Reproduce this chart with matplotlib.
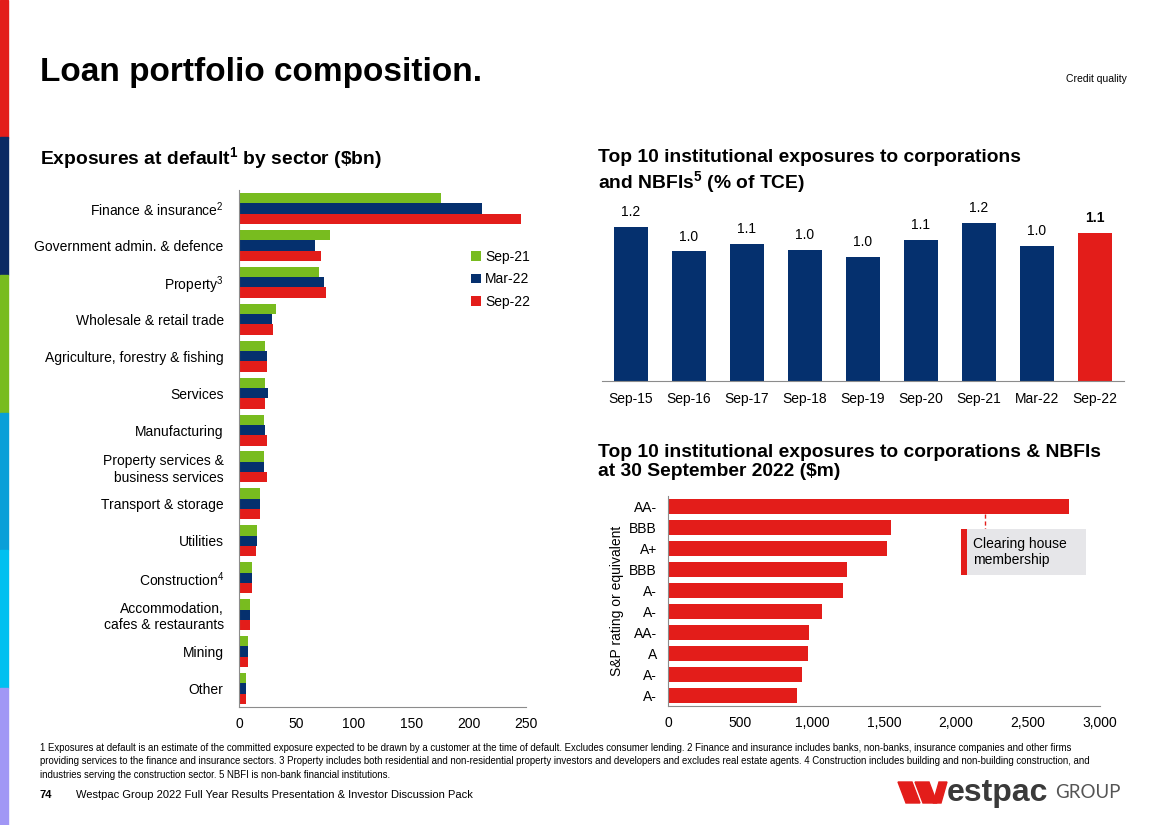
import numpy as np
import matplotlib
matplotlib.use("Agg")
import matplotlib.pyplot as plt
from matplotlib.patches import Rectangle, Polygon

plt.rcParams["font.family"] = ["Liberation Sans", "DejaVu Sans"]
plt.rcParams["mathtext.default"] = "regular"

GREEN = "#78bc1f"
NAVY = "#05306e"
RED = "#e31d1a"
AXIS_GREY = "#8c8c8c"

# Exposures at default by sector ($bn)
sectors = [
    "Finance & insurance$^2$", "Government admin. & defence", "Property$^3$",
    "Wholesale & retail trade", "Agriculture, forestry & fishing", "Services",
    "Manufacturing", "Property services &\nbusiness services", "Transport & storage",
    "Utilities", "Construction$^4$", "Accommodation,\ncafes & restaurants",
    "Mining", "Other",
]
ead_sep21 = [176, 79, 70, 32, 23, 23, 22, 21.5, 18, 16, 11, 9.5, 8, 6.5]
ead_mar22 = [212, 66, 74, 29, 24, 25.5, 22.5, 22, 18.5, 16, 11, 10, 8, 6.5]
ead_sep22 = [246, 71, 76, 30, 24.5, 23, 24.5, 24, 18, 15, 11, 10, 8, 6.5]
periods_ead = ["Sep-21", "Mar-22", "Sep-22"]

# Top 10 exposures as % of TCE
tce_periods = ["Sep-15", "Sep-16", "Sep-17", "Sep-18", "Sep-19",
               "Sep-20", "Sep-21", "Mar-22", "Sep-22"]
tce_values = [1.19, 1.00, 1.06, 1.01, 0.96, 1.09, 1.22, 1.04, 1.14]

# Top 10 exposures at 30 Sep 2022 ($m)
ratings = ["AA-", "BBB", "A+", "BBB", "A-", "A-", "AA-", "A", "A-", "A-"]
exposures = [2785, 1548, 1520, 1240, 1214, 1072, 977, 972, 928, 893]

W, H = 1168, 825
fig = plt.figure(figsize=(W / 100, H / 100), dpi=100)


def px_axes(x0, y0, x1, y1):
    """Axes from pixel box (left, top, right, bottom)."""
    return fig.add_axes([x0 / W, 1 - y1 / H, (x1 - x0) / W, (y1 - y0) / H])


def fx(x):
    return x / W


def fy(y):
    return 1 - y / H


# left colour strip
strip_cols = ["#e31d1a", "#0b2a63", "#78bc1f", "#0a9fd8", "#00c0f0", "#a197f5"]
for i, c in enumerate(strip_cols):
    fig.patches.append(Rectangle((0, 1 - (i + 1) / 6), 8 / W, 1 / 6,
                                 transform=fig.transFigure, color=c, zorder=0))

# headings
fig.text(fx(40), fy(72), "Loan portfolio composition.", fontsize=24,
         fontweight="bold", va="center")
fig.text(fx(1127), fy(79), "Credit quality", fontsize=7.5, ha="right", va="center")
fig.text(fx(40), fy(158), r"Exposures at default$^1$ by sector (\$bn)",
         fontsize=13.9, fontweight="bold", va="center")
fig.text(fx(598), fy(172),
         "Top 10 institutional exposures to corporations\nand NBFIs$^5$ (% of TCE)",
         fontsize=13.9, fontweight="bold", va="center", linespacing=1.2)
fig.text(fx(598), fy(462),
         "Top 10 institutional exposures to corporations & NBFIs\nat 30 September 2022 ($m)",
         fontsize=13.9, fontweight="bold", va="center", linespacing=1.2)

# ---- left: EAD by sector ----
ax1 = px_axes(239, 190, 526, 707)
y = np.arange(len(sectors))
bh = 0.28
ax1.barh(y - bh, ead_sep21, height=bh, color=GREEN, label=periods_ead[0])
ax1.barh(y, ead_mar22, height=bh, color=NAVY, label=periods_ead[1])
ax1.barh(y + bh, ead_sep22, height=bh, color=RED, label=periods_ead[2])
ax1.set_ylim(len(sectors) - 0.5, -0.5)
ax1.set_xlim(0, 250)
ax1.set_xticks(range(0, 251, 50))
ax1.set_yticks(y)
ax1.set_yticklabels(sectors, linespacing=1.2)
ax1.tick_params(length=0, labelsize=10)
ax1.tick_params(axis="x", pad=7)
ax1.tick_params(axis="y", pad=11)
for s in ["top", "right"]:
    ax1.spines[s].set_visible(False)
for s in ["left", "bottom"]:
    ax1.spines[s].set_color(AXIS_GREY)
ax1.legend(loc="upper left", bbox_to_anchor=(0.765, 0.908), frameon=False,
           fontsize=10, handlelength=0.7, handleheight=0.7, handletextpad=0.3,
           labelspacing=0.6)

# ---- top right: % of TCE ----
ax2 = px_axes(602, 206, 1124, 381)
xs = np.arange(len(tce_periods))
cols = [NAVY] * (len(tce_periods) - 1) + [RED]
ax2.bar(xs, tce_values, width=0.6, color=cols)
for i, v in enumerate(tce_values):
    ax2.text(i, v + 0.06, f"{v:.1f}", ha="center", va="bottom", fontsize=10,
             fontweight="bold" if i == len(tce_values) - 1 else "normal")
ax2.set_xlim(-0.5, len(tce_periods) - 0.5)
ax2.set_ylim(0, 1.35)
ax2.set_xticks(xs)
ax2.set_xticklabels(tce_periods, fontsize=10)
ax2.set_yticks([])
ax2.tick_params(length=0, pad=8)
for s in ["top", "right", "left"]:
    ax2.spines[s].set_visible(False)
ax2.spines["bottom"].set_color(AXIS_GREY)

# ---- bottom right: top 10 exposures ($m) ----
ax3 = px_axes(668, 496, 1100, 706)
yr = np.arange(len(ratings))
ax3.barh(yr, exposures, height=0.7, color=RED)
ax3.set_ylim(len(ratings) - 0.5, -0.5)
ax3.set_xlim(0, 3000)
ax3.set_xticks(range(0, 3001, 500))
ax3.set_xticklabels([f"{t:,}" for t in range(0, 3001, 500)])
ax3.set_yticks(yr)
ax3.set_yticklabels(ratings)
ax3.tick_params(length=0, labelsize=10)
ax3.tick_params(axis="x", pad=7)
ax3.tick_params(axis="y", pad=8)
ax3.set_ylabel("S&P rating or equivalent", fontsize=10, labelpad=4)
for s in ["top", "right"]:
    ax3.spines[s].set_visible(False)
for s in ["left", "bottom"]:
    ax3.spines[s].set_color(AXIS_GREY)

# clearing house callout
ax3.plot([2200, 2200], [0.35, 1.05], color=RED, lw=1, ls=(0, (3, 2)))
ax3.add_patch(Rectangle((2074, 1.05), 826, 2.2, facecolor="#e6e6e9",
                        edgecolor="none", zorder=2))
ax3.add_patch(Rectangle((2035, 1.05), 40, 2.2, facecolor=RED,
                        edgecolor="none", zorder=3))
ax3.text(2120, 2.15, "Clearing house\nmembership", fontsize=10, va="center",
         ha="left", zorder=4, linespacing=1.2)

# footnotes
narrow = ["Liberation Sans Narrow", "Liberation Sans", "DejaVu Sans"]
notes = [
    "1 Exposures at default is an estimate of the committed exposure expected to be drawn by a customer at the time of default. Excludes consumer lending. 2 Finance and insurance includes banks, non-banks, insurance companies and other firms",
    "providing services to the finance and insurance sectors. 3 Property includes both residential and non-residential property investors and developers and excludes real estate agents. 4 Construction includes building and non-building construction, and",
    "industries serving the construction sector. 5 NBFI is non-bank financial institutions.",
]
for i, line in enumerate(notes):
    fig.text(fx(40), fy(748 + i * 13.5), line, fontsize=6.9, family=narrow,
             va="center")
fig.text(fx(40), fy(795), "74", fontsize=8, fontweight="bold", va="center")
fig.text(fx(76), fy(795),
         "Westpac Group 2022 Full Year Results Presentation & Investor Discussion Pack",
         fontsize=8, family=narrow, va="center")

# logo: stylised W, then wordmark
w_shapes = [
    [(898, 782), (912, 782), (920, 803), (906, 803)],
    [(915, 782), (929, 782), (937, 803), (923, 803)],
    [(933, 803), (941, 803), (947, 782), (939, 782)],
]
for pts in w_shapes:
    fig.patches.append(Polygon([(fx(px), fy(py)) for px, py in pts], closed=True,
                               transform=fig.transFigure, color=RED))
fig.text(fx(947), fy(793), "estpac", fontsize=23, fontweight="bold",
         color="#3a3a3a", va="center")
fig.text(fx(1121), fy(793), "GROUP", fontsize=13.5, color="#555555",
         va="center", ha="right", family=["Lato", "Liberation Sans"])

fig.savefig("out.png", dpi=100)
